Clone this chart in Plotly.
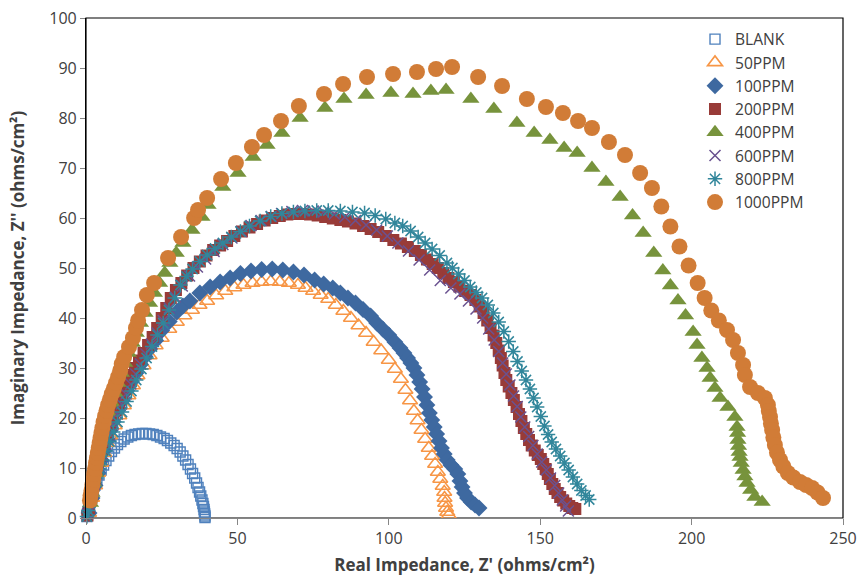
import plotly.graph_objects as go

# ---------------- data ----------------
series_names = ["BLANK", "50PPM", "100PPM", "200PPM", "400PPM", "600PPM", "800PPM", "1000PPM"]

blank_x = [0.3,0.6,1.0,1.4,1.9,2.4,3.0,3.6,4.3,5.0,5.8,6.6,7.5,8.4,9.4,10.4,11.5,12.6,13.8,15.0,16.2,17.4,18.6,19.8,21.0,22.2,23.4,24.6,25.8,26.9,28.0,29.1,30.1,31.1,32.0,32.9,33.7,34.5,35.2,35.9,36.5,37.0,37.5,37.9,38.3,38.6,38.8,39.0,39.1,39.2,39.3,39.3]
blank_y = [0.3,1.2,2.2,3.2,4.3,5.5,6.6,7.6,8.6,9.6,10.6,11.5,12.4,13.3,14.0,14.7,15.3,15.8,16.2,16.5,16.7,16.8,16.9,16.9,16.8,16.7,16.5,16.2,15.9,15.5,15.0,14.5,13.9,13.2,12.4,11.6,10.7,9.8,8.9,8.0,7.0,6.1,5.2,4.4,3.6,2.9,2.3,1.7,1.2,0.8,0.4,0.1]

ppm50_x = [1.0,2.0,3.0,4.0,5.0,6.0,7.0,8.0,9.5,11.0,12.5,14.0,15.5,17.0,19.0,21.0,23.0,25.0,27.5,30.0,32.5,35.0,37.5,40.0,43.0,46.0,49.0,52.0,55.0,58.0,61.0,64.0,67.0,70.0,72.5,75.0,77.5,80.0,82.5,85.0,87.5,90.0,92.5,95.0,97.5,100.0,102.0,104.0,105.5,107.0,108.3,109.5,110.8,112.0,113.2,114.3,115.3,116.2,117.0,117.8,118.3,118.4,118.6,118.9,119.3,119.8]
ppm50_y = [1.0,4.0,6.5,9.0,11.0,13.0,15.0,16.5,18.5,20.5,22.5,24.5,26.5,28.5,30.5,32.5,34.5,36.0,37.8,39.2,40.5,41.6,42.6,43.4,44.5,45.4,46.1,46.6,47.0,47.2,47.3,47.2,47.0,46.6,46.0,45.4,44.6,43.8,42.6,41.4,40.0,38.5,37.0,35.2,33.5,31.6,29.8,27.8,25.6,23.5,21.4,19.5,17.6,15.8,14.0,12.4,10.8,9.2,7.8,6.4,5.2,4.0,3.0,2.0,1.2,0.6]

ppm100_x = [1.0,2.0,3.0,4.0,5.0,6.0,7.0,8.0,9.0,10.5,12.0,13.5,15.0,16.5,18.0,19.5,21.0,23.0,25.0,27.5,30.0,32.0,34.3,37.6,41.0,44.3,47.6,51.0,54.5,58.0,61.5,65.0,68.5,72.0,75.5,78.5,81.5,84.0,86.5,89.0,91.5,94.0,96.0,98.0,100.0,102.0,103.7,105.0,106.2,107.3,108.3,109.3,110.2,111.0,111.8,112.6,113.4,114.2,115.0,115.8,116.6,117.4,118.3,119.3,120.5,121.8,122.8,123.5,124.2,125.0,126.0,127.2,128.5,129.8]
ppm100_y = [1.0,4.0,6.5,9.0,11.5,13.5,15.5,17.5,19.3,21.5,23.5,25.5,27.3,29.0,30.7,32.3,33.8,35.5,37.5,39.3,41.2,42.4,43.4,45.0,46.2,47.2,48.0,48.9,49.4,49.7,49.8,49.6,49.2,48.6,47.6,46.8,46.0,45.0,44.0,43.0,41.7,40.4,39.0,37.8,36.6,35.2,34.0,33.0,32.0,31.0,30.0,28.6,27.2,25.8,24.2,22.6,21.0,19.6,18.2,16.8,15.4,14.0,12.8,11.6,10.6,9.8,8.8,7.4,6.2,5.0,4.0,3.2,2.6,2.0]

ppm200_x = [0.5,1.0,1.5,2.0,2.5,3.0,3.5,4.0,4.5,5.2,6.0,7.0,8.0,9.0,10.0,11.0,12.0,13.0,14.0,15.0,16.2,17.5,19.0,20.5,22.0,23.5,25.0,26.5,28.0,29.7,31.5,33.4,35.5,37.6,39.8,42.0,44.3,46.6,49.0,51.5,54.0,56.5,59.0,61.5,64.0,66.5,69.0,71.5,74.0,76.5,79.0,81.5,84.0,86.5,89.0,91.5,94.0,96.5,99.0,101.5,104.0,106.3,108.6,110.6,112.6,114.5,116.2,118.0,119.7,121.5,123.3,125.2,127.0,128.6,130.0,131.3,132.5,133.6,134.6,135.5,136.3,137.0,137.6,138.2,138.8,139.6,140.5,141.3,142.2,143.0,143.8,144.6,145.4,146.3,147.2,148.2,149.2,150.2,151.0,151.8,152.5,153.2,154.0,154.8,155.7,156.6,157.6,158.6,159.6,160.6,161.6]
ppm200_y = [0.5,2.0,3.5,5.0,6.5,8.0,9.5,11.0,12.3,13.6,15.0,16.8,18.5,20.0,21.6,23.0,24.4,25.8,27.2,28.6,30.0,31.5,33.0,34.6,36.2,38.0,40.0,42.0,44.0,45.6,47.0,48.5,50.0,51.3,52.5,53.6,54.5,55.4,56.4,57.3,58.1,58.8,59.5,60.0,60.4,60.7,60.8,60.8,60.7,60.5,60.2,59.9,59.6,59.3,58.9,58.4,57.8,57.2,56.4,55.6,54.9,54.2,53.4,52.6,51.7,50.8,50.0,49.0,48.0,47.2,46.3,45.4,44.6,43.6,42.3,41.0,39.5,38.0,36.5,35.0,33.5,32.0,30.5,29.0,27.6,26.3,25.0,23.6,22.2,20.8,19.4,18.0,16.8,15.6,14.5,13.5,12.6,11.8,10.8,9.8,8.8,7.8,6.8,5.8,5.0,4.2,3.5,2.9,2.4,2.0,1.8]

ppm400_x = [1.5,2.0,2.6,3.2,3.8,4.5,5.2,6.0,6.8,7.7,8.6,9.6,10.6,11.7,12.8,14.0,15.3,16.6,18.0,19.5,21.0,22.6,24.3,26.0,27.7,29.8,32.0,35.0,38.3,40.3,45.2,50.2,55.2,59.8,64.7,70.7,78.9,85.2,92.5,100.7,108.0,113.9,118.9,127.1,134.7,142.3,148.0,153.2,157.9,162.2,167.1,171.7,176.4,180.5,184.0,187.5,190.5,193.0,195.5,198.0,200.5,201.8,203.4,205.1,206.1,207.7,209.4,212.0,214.3,215.0,215.2,215.3,215.5,215.7,216.0,216.4,217.0,217.6,218.3,219.5,220.9,223.3]
ppm400_y = [3.0,5.0,7.0,9.0,11.0,13.0,15.0,17.0,19.0,21.0,23.0,25.0,27.0,29.0,31.0,33.0,35.0,37.0,39.0,41.0,43.0,45.0,47.0,49.0,51.0,53.0,55.0,57.6,60.2,62.6,66.2,69.0,72.2,74.6,77.0,80.0,82.0,83.8,84.6,85.0,84.8,85.4,85.6,83.8,81.8,79.0,77.0,75.6,74.0,73.0,70.0,67.2,64.2,60.5,57.0,53.0,49.5,46.5,43.5,40.5,37.2,34.6,32.0,30.0,28.0,26.0,24.0,22.2,20.2,18.2,17.0,15.6,14.4,13.2,12.2,11.0,9.6,8.3,7.0,5.6,4.2,3.2]

ppm600_x = [0.5,1.2,2.0,2.8,3.6,4.5,5.5,6.6,7.8,9.0,10.3,11.7,13.2,14.8,16.4,18.0,19.8,21.6,23.5,25.5,27.5,29.5,31.8,34.2,36.8,39.5,42.3,45.2,48.2,51.3,54.5,57.8,61.2,64.6,68.0,71.5,75.0,78.5,82.0,85.5,89.0,92.5,96.0,99.5,103.0,106.5,110.0,113.5,117.0,120.5,123.5,126.3,128.8,131.0,133.0,134.8,136.3,137.6,138.8,140.0,141.2,142.4,143.6,144.9,146.2,147.6,149.0,150.5,152.0,153.4,154.8,156.1,157.3,158.4,159.3]
ppm600_y = [0.8,2.8,4.8,6.8,8.8,10.8,12.8,14.8,16.8,18.8,20.8,22.8,24.8,26.8,28.8,30.8,32.8,34.8,37.0,39.5,42.0,44.2,46.4,48.4,50.2,51.8,53.3,54.7,56.0,57.3,58.5,59.5,60.3,60.9,61.3,61.5,61.4,61.2,60.8,60.2,59.5,58.6,57.6,56.4,55.0,53.4,51.6,49.6,47.5,46.0,44.8,43.4,41.8,40.0,37.8,35.6,33.3,31.0,28.8,26.6,24.4,22.3,20.2,18.2,16.3,14.5,12.8,11.2,9.6,8.0,6.5,5.0,3.6,2.4,1.4]

ppm800_x = [0.3,0.8,1.4,2.0,2.7,3.5,4.4,5.4,6.5,7.7,9.0,10.4,11.9,13.4,15.0,16.6,18.3,20.0,21.8,23.6,25.5,27.4,29.3,31.2,33.2,35.2,37.6,40.0,42.6,45.2,48.0,51.0,54.0,57.5,61.0,64.7,68.5,72.3,76.2,80.0,84.0,88.0,92.0,95.5,99.0,102.0,104.6,107.2,109.7,112.0,114.3,116.8,119.2,121.0,123.0,125.0,126.9,128.9,130.8,132.7,134.5,136.3,138.0,139.6,141.1,142.5,143.9,145.3,146.6,147.8,149.0,150.2,151.4,152.6,153.8,155.2,156.6,158.0,159.4,160.8,162.2,163.6,165.0,166.2]
ppm800_y = [0.3,1.5,3.0,4.6,6.3,8.0,9.8,11.6,13.4,15.3,17.2,19.2,21.2,23.3,25.4,27.6,29.8,32.0,34.3,36.6,39.0,41.6,44.0,46.6,48.3,49.8,51.3,52.6,53.9,55.0,56.2,57.3,58.4,59.4,60.3,60.9,61.2,61.4,61.5,61.5,61.4,61.2,61.0,60.5,59.8,59.0,58.4,57.4,56.2,55.0,53.8,52.5,51.0,50.0,48.8,47.5,46.2,45.1,44.0,42.6,41.0,39.2,37.3,35.3,33.3,31.3,29.4,27.6,25.8,24.0,22.2,20.3,18.4,16.7,15.2,13.8,12.4,11.0,9.6,8.2,6.8,5.5,4.5,3.7]

ppm1000_x = [1.3,1.5,1.8,2.1,2.4,2.7,3.0,3.3,3.6,3.9,4.2,4.5,4.8,5.1,5.4,5.8,6.3,6.8,7.3,7.9,8.5,9.2,9.9,10.6,11.3,11.8,12.6,14.2,15.5,16.5,17.2,18.5,20.1,22.5,27.1,31.4,35.7,37.0,40.0,44.6,49.5,54.8,58.8,64.4,70.3,78.6,84.9,92.8,101.4,109.3,115.6,120.9,129.5,137.4,145.6,151.9,157.5,162.5,167.1,172.7,178.0,183.0,186.9,190.0,193.0,196.0,199.0,202.0,204.3,206.5,209.0,211.7,213.7,215.3,217.0,217.6,219.3,221.9,224.2,225.2,225.5,225.9,226.2,226.6,227.0,227.5,228.2,229.2,230.3,231.8,233.6,235.8,237.8,239.8,241.6,243.4]
ppm1000_y = [3.5,4.5,5.5,6.6,7.7,8.8,9.9,11.0,12.0,13.0,14.0,15.0,16.0,17.0,18.0,19.2,20.4,21.5,22.6,23.7,24.8,25.9,27.0,28.2,29.5,30.8,32.2,34.2,36.0,38.0,39.5,41.6,44.6,47.0,52.0,56.2,60.0,61.6,64.0,67.8,71.0,74.2,76.6,79.4,82.4,84.8,86.8,88.2,88.8,89.2,89.8,90.2,88.2,86.4,83.8,82.2,81.0,79.4,78.0,75.2,72.6,69.0,66.0,62.3,58.3,54.3,50.5,47.0,44.0,41.5,39.5,37.6,35.6,33.0,30.6,28.6,26.2,25.0,24.0,22.6,21.4,20.2,18.9,17.6,16.1,14.6,13.1,11.6,10.3,9.0,8.1,7.2,6.6,6.0,5.1,4.0]

x_tick_vals = [0, 50, 100, 150, 200, 250]
y_tick_vals = [0, 10, 20, 30, 40, 50, 60, 70, 80, 90, 100]
x_title = "Real Impedance, Z' (ohms/cm²)"
y_title = "Imaginary Impedance, Z'' (ohms/cm²)"

# ---------------- styling ----------------
xs = [blank_x, ppm50_x, ppm100_x, ppm200_x, ppm400_x, ppm600_x, ppm800_x, ppm1000_x]
ys = [blank_y, ppm50_y, ppm100_y, ppm200_y, ppm400_y, ppm600_y, ppm800_y, ppm1000_y]
styles = [
    dict(symbol="square-open", size=10, color="#4F81BD", line=dict(width=1.4, color="#4F81BD")),
    dict(symbol="triangle-up-open", size=13, color="#F79646", line=dict(width=1.6, color="#F79646")),
    dict(symbol="diamond", size=13, color="#3E69A0", line=dict(width=0)),
    dict(symbol="square", size=12, color="#983B38", line=dict(width=0)),
    dict(symbol="triangle-up", size=15, color="#77933C", line=dict(width=0)),
    dict(symbol="x-thin-open", size=11, color="#6A5290", line=dict(width=1.5, color="#6A5290")),
    dict(symbol="asterisk-open", size=12, color="#31869B", line=dict(width=1.5, color="#31869B")),
    dict(symbol="circle", size=16, color="#D17C37", line=dict(width=0)),
]

font_family = "Open Sans, Liberation Sans, sans-serif"
fig = go.Figure()
for name, x, y, st in zip(series_names, xs, ys, styles):
    fig.add_trace(go.Scatter(x=x, y=y, mode="markers", name=name, marker=st, cliponaxis=False))

fig.update_layout(
    width=858, height=576,
    margin=dict(l=86, r=15, t=18, b=58, autoexpand=False),
    paper_bgcolor="white", plot_bgcolor="white",
    font=dict(family=font_family, size=16, color="#404040"),
    showlegend=True,
    legend=dict(x=0.8045, y=0.991, xanchor="left", yanchor="top",
                bgcolor="rgba(0,0,0,0)", font=dict(size=15.6, color="#404040"),
                itemwidth=30),
    shapes=[dict(type="rect", xref="paper", yref="paper", x0=0, y0=0, x1=1, y1=1,
                 line=dict(color="black", width=1.2), layer="below")],
)
fig.update_xaxes(range=[0, 250], tickvals=x_tick_vals, ticks="outside", ticklen=6,
                 tickcolor="#868686", showline=True, linecolor="#868686", linewidth=1,
                 showgrid=False, zeroline=False, automargin=False,
                 tickfont=dict(size=16, color="#404040"),
                 title=dict(text=x_title, font=dict(size=17, weight=700, color="#404040"), standoff=15))
fig.update_yaxes(range=[0, 100], tickvals=y_tick_vals, ticks="outside", ticklen=5,
                 tickcolor="#868686", showline=True, linecolor="black", linewidth=1.2,
                 showgrid=False, zeroline=False, automargin=False,
                 tickfont=dict(size=16, color="#404040"),
                 title=dict(text=y_title, font=dict(size=17, weight=700, color="#404040"), standoff=20))

fig.write_html("out.html")
